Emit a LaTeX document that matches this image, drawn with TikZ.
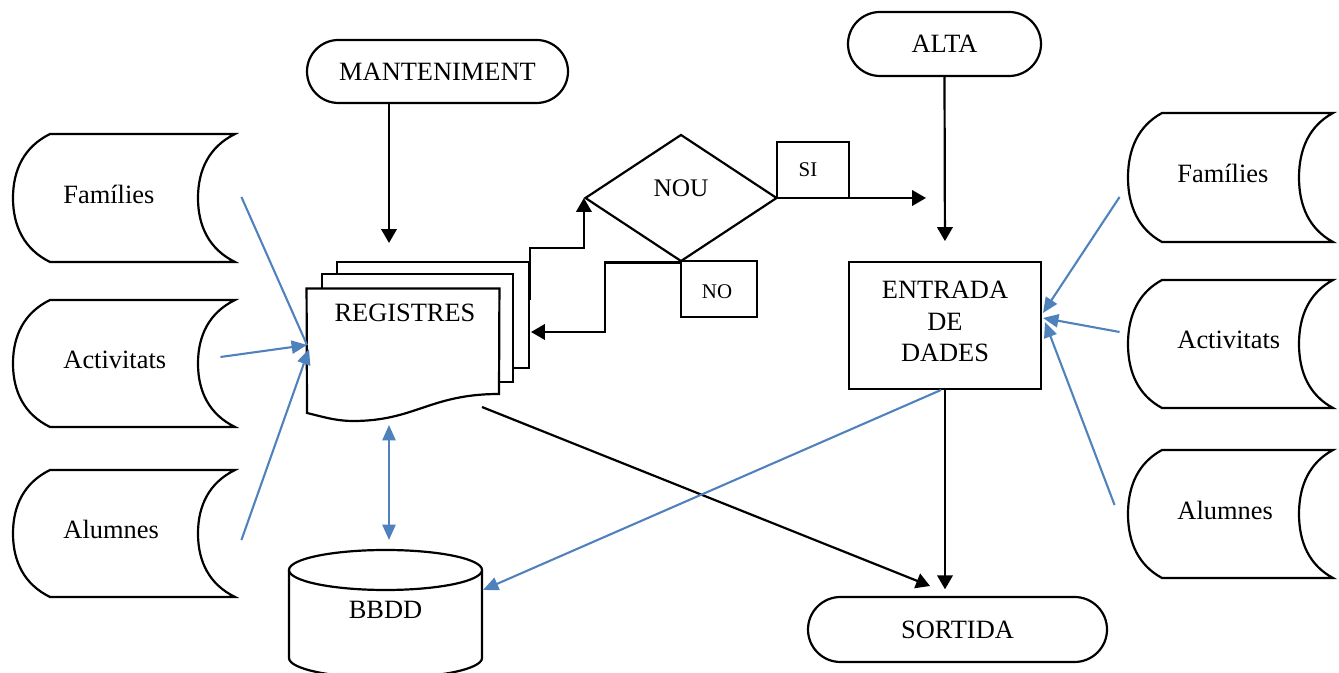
\documentclass[tikz,border=0pt]{standalone}
\usepackage{fontspec}
\setmainfont{Liberation Serif}
\usetikzlibrary{shapes.geometric,arrows.meta,calc}
\def\px{0.4545pt}
\definecolor{lnblue}{RGB}{79,129,189}
\tikzset{
  shp/.style={draw=black, line width=1pt, fill=white},
  stbox/.style={draw=none, inner sep=0pt, rectangle},
  txt/.style={font=\fontsize{12}{14.5}\selectfont, inner sep=0pt},
  smalltxt/.style={font=\fontsize{9.5}{11}\selectfont, inner sep=0pt},
  term/.style={shp, rectangle, inner sep=0pt, font=\fontsize{12}{14.5}\selectfont},
  arr/.style={draw=black, line width=1pt, -{Triangle[length=6.3pt,width=7pt]}},
  blue/.style={draw=lnblue, line width=0.95pt},
  barr/.style={blue, -{Triangle[length=7pt,width=6pt]}},
  bdarr/.style={blue, {Triangle[length=7pt,width=6pt]}-{Triangle[length=7pt,width=6pt]}},
}
\newcommand\stdata[8]{%
  \node[stbox, minimum width={#4*\px}, minimum height={#5*\px}] (#1) at ({#2+#4/2},{#3+#5/2}) {};
  \draw[shp] ({#2+#6},#3) -- ({#2+#4},#3)
    .. controls ({#2+#4-0.7*#6},{#3+0.1*#5}) and ({#2+#4-#6},{#3+0.28*#5}) .. ({#2+#4-#6},{#3+#5/2})
    .. controls ({#2+#4-#6},{#3+0.72*#5}) and ({#2+#4-0.7*#6},{#3+0.9*#5}) .. ({#2+#4},{#3+#5})
    -- ({#2+#6},{#3+#5})
    .. controls ({#2+0.3*#6},{#3+0.9*#5}) and (#2,{#3+0.72*#5}) .. (#2,{#3+#5/2})
    .. controls (#2,{#3+0.28*#5}) and ({#2+0.3*#6},{#3+0.1*#5}) .. cycle;
  \node[txt, anchor=west] (#1-t) at ({#2+#8},{#3+#5/2-4}) {#7};
}
\begin{document}
\begin{tikzpicture}[x=0.4545pt, y=-0.4545pt]
\useasboundingbox (0,0) rectangle (1339,673);
\clip (0,0) rectangle (1339,673);

% stored data shapes
\stdata{fam1}{13}{134}{222}{128}{37}{Famílies}{50}
\stdata{act1}{13}{300}{222}{127}{37}{Activitats}{50}
\stdata{alu1}{13}{470}{222}{127}{37}{Alumnes}{50}
\stdata{fam2}{1128}{113}{205}{129}{34}{Famílies}{49}
\stdata{act2}{1128}{280}{205}{128}{34}{Activitats}{49}
\stdata{alu2}{1128}{450}{205}{128}{34}{Alumnes}{49}

% terminators
\node[term, minimum width={261*\px}, minimum height={63*\px}, rounded corners={31.5*\px}] (mant) at (437.5,71.5) {MANTENIMENT};
\node[term, minimum width={193*\px}, minimum height={64*\px}, rounded corners={32*\px}] (alta) at (944.5,44) {ALTA};
\node[term, minimum width={299*\px}, minimum height={65*\px}, rounded corners={32.5*\px}] (sortida) at (957.5,629.5) {SORTIDA};

% multi-document REGISTRES
\node[shp, rectangle, inner sep=0pt, minimum width={192*\px}, minimum height={106*\px}] (reg3) at (433,315) {};
\node[shp, rectangle, inner sep=0pt, minimum width={191*\px}, minimum height={108*\px}] (reg2) at (417.5,328) {};
\node[stbox, minimum width={192*\px}, minimum height={124*\px}] (reg) at (403,351) {};
\draw[shp] (reg.north west) -- (reg.north east) -- (499,394)
  .. controls (430,394) and (415,421) .. (353,421)
  .. controls (335,421) and (320,416) .. (307,413) -- cycle;
\node[txt] (reg-t) at (405,313) {REGISTRES};

% BBDD cylinder
\node[stbox, minimum width={193*\px}, minimum height={128*\px}] (bbdd) at (385.5,614) {};
\draw[shp] (289,570) -- (289,658) arc[start angle=180, end angle=0, x radius=96.5, y radius=20] -- (482,570);
\draw[shp] (385.5,570) ellipse [x radius=96.5, y radius=20];
\node[txt] (bbdd-t) at (385.5,610) {BBDD};

% decision
\node[shp, shape=diamond, inner sep=0pt, minimum width={192*\px}, minimum height={127*\px}] (nou) at (681,198) {};
\node[txt, font=\fontsize{11.5}{14}\selectfont] (nou-t) at (681,188) {NOU};
\node[shp, rectangle, inner sep=0pt, minimum width={72*\px}, minimum height={56*\px}] (si) at (813,170) {};
\node[smalltxt] (si-t) at (808,170) {SI};
\node[shp, rectangle, inner sep=0pt, minimum width={76*\px}, minimum height={56*\px}] (no) at (719,289) {};
\node[smalltxt] (no-t) at (717,292) {NO};

% entrada de dades
\node[shp, rectangle, inner sep=0pt, minimum width={192*\px}, minimum height={127*\px}] (entrada) at (945,325.5) {};
\node[txt, align=center] (entrada-t) at (945,321.5) {ENTRADA\\DE\\DADES};

% coordinates
\coordinate (regtop) at (389,243);
\coordinate (noin) at (531,332);
\coordinate (siend) at (926,198);
\coordinate (regout) at (482,407);
\coordinate (sortin) at (930,586);
\coordinate (regL) at (307,345);
\coordinate (regL2) at (309,349);
\coordinate (entR1) at (1043,313);
\coordinate (entR2) at (1043,318);
\coordinate (entR3) at (1045,322);
\coordinate (bbddR) at (483,590);
\coordinate (regbot) at (389,425);
\coordinate (bbddtop) at (389,540);
\coordinate (entB) at (941,390);

% black connectors
\draw[arr] (mant.south -| regtop) -- (regtop);
\draw[arr] ($(reg3.east)+(0,-15)$) -- ++(0,-52) -| (nou.west);
\draw[arr] (nou.south) -- ++(-76,0) |- (noin);
\draw[arr] (nou.east) -- (siend);
\draw[arr, shorten >=9pt] (alta.south) -- (entrada.north);
\draw[arr, shorten >=3pt] (entrada.south) -- (entrada.south |- sortida.north);
\draw[arr] (regout) -- (sortin);

% blue connectors
\draw[blue] ($(fam1.east)+(6,-1)$) -- (regL);
\draw[barr] ($(act1.east)+(-15,-6.5)$) -- (regL);
\draw[barr] ($(alu1.east)+(6,6.5)$) -- (regL2);
\draw[barr] ($(fam2.west)+(-8,19.5)$) -- (entR1);
\draw[barr] ($(act2.west)+(-8,-12)$) -- (entR2);
\draw[barr] ($(alu2.west)+(-13,-9)$) -- (entR3);
\draw[barr] (entB) -- (bbddR);
\draw[bdarr] (regbot) -- (bbddtop);
\end{tikzpicture}
\end{document}
